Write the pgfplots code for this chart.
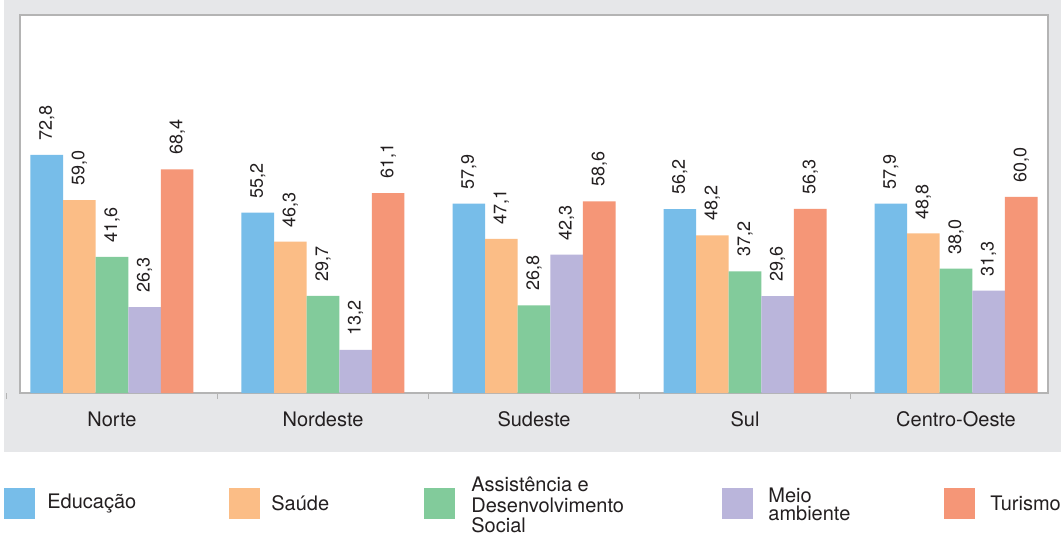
\documentclass[border=0pt]{standalone}
\usepackage{pgfplots}
\pgfplotsset{compat=1.18}
\usepackage{fontspec}
\setmainfont{TeX Gyre Heros}
\definecolor{bggray}{HTML}{E6E7E9}
\definecolor{framegray}{HTML}{B4B4B4}
\definecolor{txt}{HTML}{231F20}
\definecolor{cEdu}{HTML}{77BDE9}
\definecolor{cSau}{HTML}{FBBD86}
\definecolor{cAss}{HTML}{82CB9B}
\definecolor{cMei}{HTML}{BAB5DB}
\definecolor{cTur}{HTML}{F59677}
\begin{document}
\begin{tikzpicture}
\useasboundingbox (0,0) rectangle (530.5pt,-268pt);
\fill[bggray] (2pt,0) rectangle (530.5pt,-226pt);
\begin{axis}[
  at={(10pt,-196.5pt)}, anchor=south west,
  scale only axis, width=514pt, height=189pt,
  xmin=-0.436, xmax=4.436, ymin=0, ymax=115.6,
  axis background/.style={fill=white},
  axis line style={framegray, line width=0.9pt},
  ytick=\empty,
  xtick={0,1,2,3,4},
  xticklabels={Norte,Nordeste,Sudeste,Sul,Centro-Oeste},
  minor xtick={0.5,1.5,2.5,3.5},
  major tick length=0pt,
  minor tick length=3pt,
  tick align=outside,
  tick pos=left,
  minor x tick style={framegray, line width=0.7pt},
  x tick label style={font=\fontsize{10}{12}\selectfont, text=txt, anchor=center, yshift=-13pt},
  ybar, bar width=0.1545,
  clip=false,
  nodes near coords,
  every node near coord/.append style={rotate=90, anchor=west, inner ysep=0pt, inner xsep=7pt, font=\fontsize{9}{10}\selectfont, text=txt},
  /pgf/number format/.cd, fixed, fixed zerofill, precision=1, use comma, assume math mode=true,
]
\addplot[fill=cEdu, draw=none, bar shift=-0.309] coordinates {(0,72.8) (1,55.2) (2,57.9) (3,56.2) (4,57.9)};
\addplot[fill=cSau, draw=none, bar shift=-0.1545] coordinates {(0,59.0) (1,46.3) (2,47.1) (3,48.2) (4,48.8)};
\addplot[fill=cAss, draw=none, bar shift=0] coordinates {(0,41.6) (1,29.7) (2,26.8) (3,37.2) (4,38.0)};
\addplot[fill=cMei, draw=none, bar shift=0.1545] coordinates {(0,26.3) (1,13.2) (2,42.3) (3,29.6) (4,31.3)};
\addplot[fill=cTur, draw=none, bar shift=0.309] coordinates {(0,68.4) (1,61.1) (2,58.6) (3,56.3) (4,60.0)};
\draw[framegray, line width=0.7pt] (axis cs:-0.5,0) -- ([yshift=-3pt]axis cs:-0.5,0);
\end{axis}
\begin{scope}[every node/.style={anchor=west, align=left, inner sep=0pt, font=\fontsize{10}{10.25}\selectfont, text=txt}]
\fill[cEdu] (2pt,-244pt) rectangle (17.5pt,-259.5pt);
\node at (23.5pt,-251.75pt) {Educação};
\fill[cSau] (114.5pt,-244pt) rectangle (130pt,-259.5pt);
\node at (135.5pt,-251.75pt) {Saúde};
\fill[cAss] (212pt,-244pt) rectangle (227.5pt,-259.5pt);
\node at (235.5pt,-252.5pt) {Assistência e\\Desenvolvimento\\Social};
\fill[cMei] (361pt,-244pt) rectangle (376.5pt,-259.5pt);
\node[font=\fontsize{10}{9}\selectfont] at (384pt,-252pt) {Meio\\ambiente};
\fill[cTur] (472pt,-244pt) rectangle (487.5pt,-259.5pt);
\node at (495pt,-251.75pt) {Turismo};
\end{scope}
\end{tikzpicture}
\end{document}
